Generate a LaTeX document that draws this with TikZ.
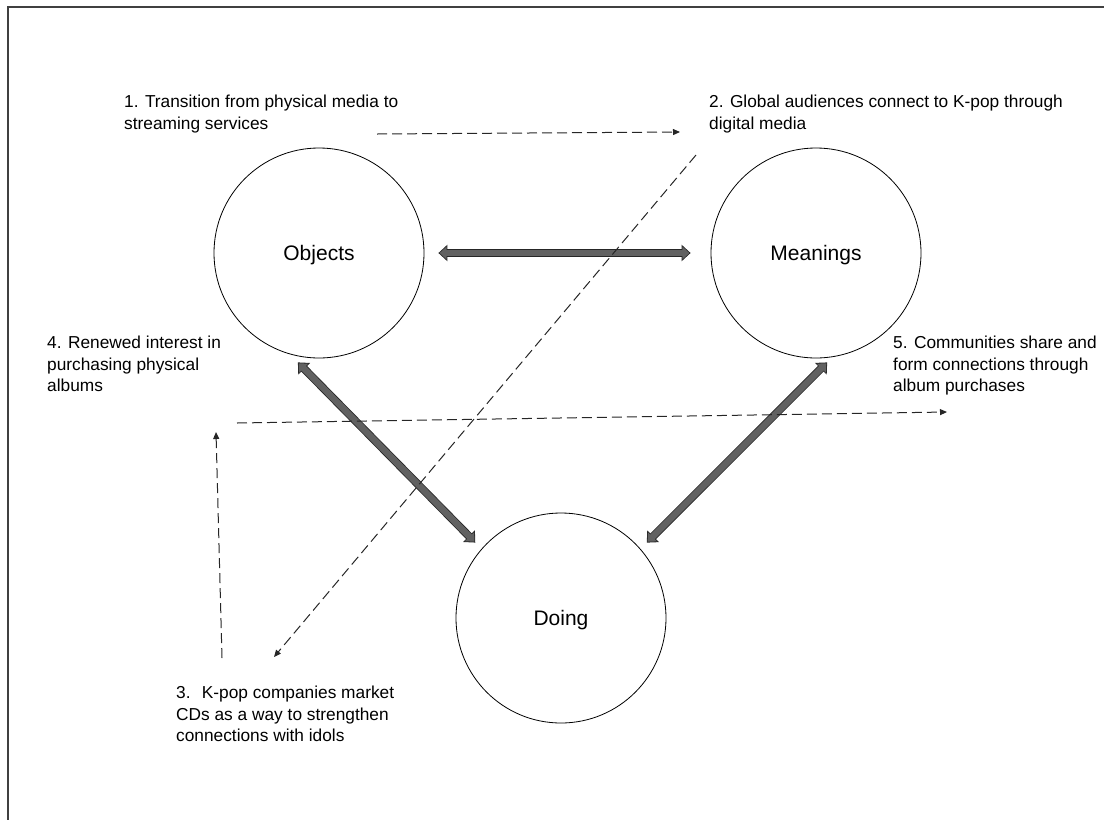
\documentclass[tikz,border=0pt]{standalone}
\usepackage{fontspec}
\setmainfont{Liberation Sans}
\usetikzlibrary{arrows.meta}
\tikzset{
  concept/.style = {draw, circle, minimum size=210pt, inner sep=0pt, line width=0.8pt, text depth=0pt, font=\fontsize{21}{25}\selectfont},
  note/.style = {anchor=north west, inner sep=0pt, align=left, font=\fontsize{17.3}{21.5}\selectfont},
  flow/.style = {black!85, line width=1pt, dash pattern=on 10pt off 5pt, -{Triangle[length=7pt, width=6pt]}},
  linkout/.style = {black!85, line width=8pt, {Triangle[length=9pt, width=16pt]}-{Triangle[length=9pt, width=16pt]}},
  linkin/.style = {black!62, line width=6.4pt, {Triangle[length=7pt, width=12.4pt]}-{Triangle[length=7pt, width=12.4pt]}}
}

\begin{document}
\begin{tikzpicture}[x=1pt, y=-1pt]
\useasboundingbox (0,0) rectangle (1104,820);
\draw[black!75, line width=1.2pt] (1104,7) -- (8,7) -- (8,820);

\node[concept] (obj) at (319,253) {Objects};
\node[concept] (mean) at (816,253) {Meanings};
\node[concept] (doing) at (561,618) {Doing};

\node[note] (t1) at (124,95) {1. Transition from physical media to\\streaming services};
\node[note] (t2) at (709,95) {2. Global audiences connect to K-pop through\\digital media};
\node[note] (t4) at (47,336) {4. Renewed interest in\\purchasing physical\\albums};
\node[note] (t5) at (893,336) {5. Communities share and\\form connections through\\album purchases};
\node[note] (t3) at (176,686) {3.~ K-pop companies market\\CDs as a way to strengthen\\connections with idols};

\foreach \a/\b/\s/\t in {obj.east/mean.west/14/20, obj.-106/doing.139/11.3/8.8, mean.-81/doing.41/7.5/8.8}{
  \draw[linkout, shorten <=\s pt, shorten >=\t pt] (\a) -- (\b);
  \draw[linkin, shorten <={(\s+1.2)*1pt}, shorten >={(\t+1.2)*1pt}] (\a) -- (\b);
}

\coordinate (f1a) at (377,134);
\coordinate (f1b) at (680,132);
\coordinate (f2a) at (696,155);
\coordinate (f2b) at (274,657);
\coordinate (f3a) at (222,658);
\coordinate (f3b) at (216,432);
\coordinate (f4a) at (237,423);
\coordinate (f4b) at (947,412);
\draw[flow] (f1a) -- (f1b);
\draw[flow] (f2a) -- (f2b);
\draw[flow] (f3a) -- (f3b);
\draw[flow] (f4a) -- (f4b);
\end{tikzpicture}
\end{document}
